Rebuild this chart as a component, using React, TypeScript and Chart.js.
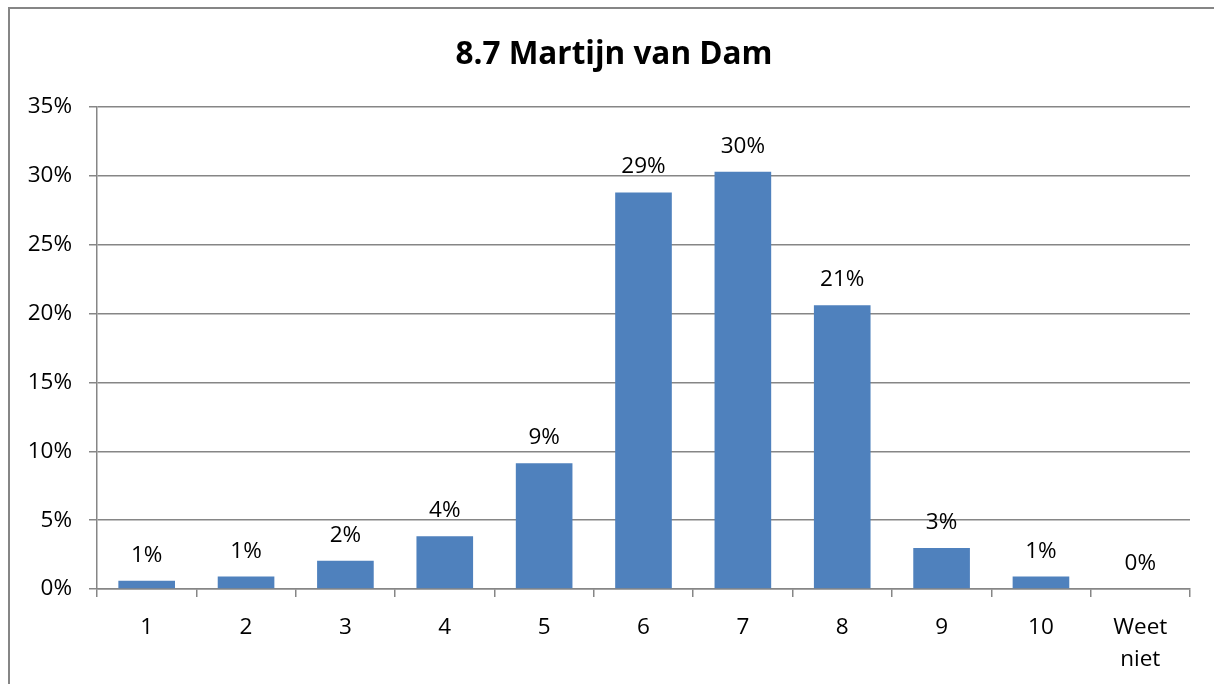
import React, { useEffect, useRef } from "react";
import { Chart, registerables } from "chart.js";

Chart.register(...registerables);

const categories: (string | string[])[] = ["1", "2", "3", "4", "5", "6", "7", "8", "9", "10", ["Weet", "niet"]];
const values: number[] = [0.6, 0.9, 2.05, 3.83, 9.13, 28.8, 30.3, 20.6, 2.98, 0.9, 0];
const valueLabels: string[] = ["1%", "1%", "2%", "4%", "9%", "29%", "30%", "21%", "3%", "1%", "0%"];
const titleText = "8.7 Martijn van Dam";

const GRID = "#868686";
const FONT = "'Open Sans', 'DejaVu Sans', sans-serif";

export default function App() {
  const ref = useRef<HTMLCanvasElement | null>(null);

  useEffect(() => {
    document.body.style.margin = "0";
    const canvas = ref.current!;

    const framePlugin = {
      id: "frame",
      beforeDraw(chart: any) {
        const ctx = chart.ctx;
        ctx.save();
        ctx.fillStyle = "#ffffff";
        ctx.fillRect(0, 0, chart.width, chart.height);
        ctx.strokeStyle = GRID;
        ctx.lineWidth = 2;
        ctx.beginPath();
        ctx.moveTo(9, chart.height + 5);
        ctx.lineTo(9, 8);
        ctx.lineTo(chart.width + 5, 8);
        ctx.stroke();
        ctx.restore();
      },
      afterDraw(chart: any) {
        const ctx = chart.ctx;
        ctx.save();
        ctx.fillStyle = "#000";
        ctx.font = `bold 31.5px ${FONT}`;
        ctx.textAlign = "center";
        ctx.textBaseline = "alphabetic";
        ctx.fillText(titleText, 614, 64);
        ctx.restore();
      },
    };

    const labelPlugin = {
      id: "valueLabels",
      afterDatasetsDraw(chart: any) {
        const ctx = chart.ctx;
        const meta = chart.getDatasetMeta(0);
        ctx.save();
        ctx.fillStyle = "#000";
        ctx.font = `22.5px ${FONT}`;
        ctx.textAlign = "center";
        ctx.textBaseline = "alphabetic";
        meta.data.forEach((bar: any, i: number) => {
          ctx.fillText(valueLabels[i], bar.x, bar.y - 19);
        });
        ctx.restore();
      },
    };

    const chart = new Chart(canvas, {
      type: "bar",
      data: {
        labels: categories as any,
        datasets: [
          {
            data: values,
            backgroundColor: "#4F81BD",
            borderWidth: 0,
            categoryPercentage: 1,
            barPercentage: 0.57,
          },
        ],
      },
      options: {
        animation: false,
        responsive: false,
        layout: { padding: { left: 0, right: 24, top: 107, bottom: 0 } },
        plugins: {
          legend: { display: false },
          title: { display: false },
          tooltip: { enabled: false },
        },
        scales: {
          x: {
            grid: {
              drawOnChartArea: false,
              drawTicks: true,
              tickLength: 8,
              color: GRID,
              lineWidth: 1.5,
              offset: true,
            },
            border: { display: true, color: GRID, width: 1.5 },
            ticks: {
              color: "#000",
              font: { family: FONT, size: 22.5, lineHeight: 1.45 },
              padding: 14,
              maxRotation: 0,
              autoSkip: false,
            },
            afterFit(scale: any) {
              scale.height = 95;
            },
          },
          y: {
            min: 0,
            max: 35,
            ticks: {
              stepSize: 5,
              color: "#000",
              font: { family: FONT, size: 22.5 },
              padding: 17,
              callback: (v: any) => `${v}%`,
            },
            grid: { color: GRID, lineWidth: 1.5, tickLength: 8, drawTicks: true },
            border: { display: true, color: GRID, width: 1.5 },
            afterFit(scale: any) {
              scale.width = 97;
            },
          },
        },
      },
      plugins: [framePlugin, labelPlugin],
    });

    return () => chart.destroy();
  }, []);

  return (
    <div style={{ width: 1214, height: 684 }}>
      <canvas ref={ref} width={1214} height={684} style={{ display: "block" }} />
    </div>
  );
}
